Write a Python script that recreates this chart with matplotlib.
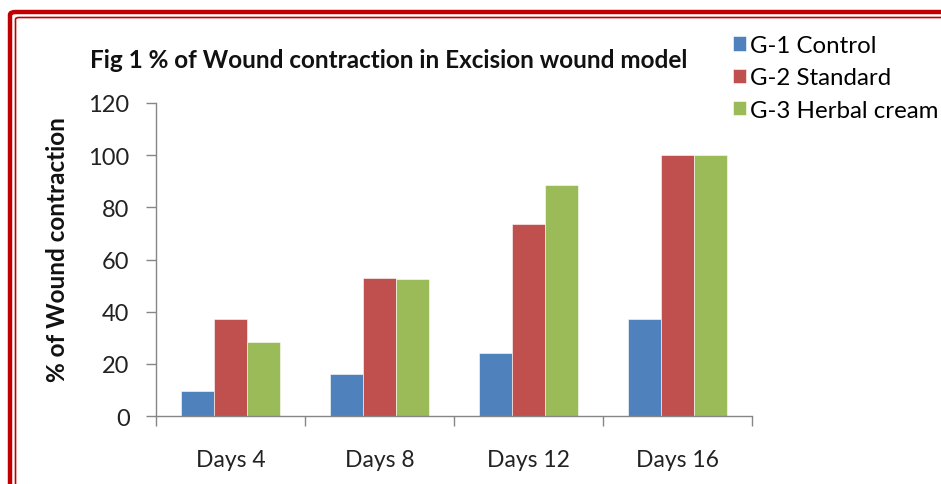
import matplotlib
matplotlib.use("Agg")
import matplotlib.pyplot as plt
import numpy as np
from matplotlib.patches import FancyBboxPatch

categories = ["Days 4", "Days 8", "Days 12", "Days 16"]
series_names = ["G-1 Control", "G-2 Standard", "G-3 Herbal cream"]
g1_control = [9.5, 16, 24, 37.2]
g2_standard = [37.2, 52.8, 73.6, 100]
g3_herbal = [28.3, 52.4, 88.4, 100]
yticks = [0, 20, 40, 60, 80, 100, 120]

colors = ["#4F81BD", "#C0504D", "#9BBB59"]
plt.rcParams['font.family'] = ['Lato', 'DejaVu Sans']

W, H = 941, 485
fig = plt.figure(figsize=(W / 100, H / 100), dpi=100)

# red frame (extends beyond the right and bottom edges)
outer = FancyBboxPatch((10 / W, -0.2), 1.2, 1 - 13 / H + 0.2,
                       boxstyle="round,pad=0,rounding_size=0.006",
                       transform=fig.transFigure, fill=False,
                       edgecolor="#C00000", linewidth=3.2, zorder=0)
inner = FancyBboxPatch((15.5 / W, -0.2), 1.2, 1 - 18.5 / H + 0.2,
                       boxstyle="round,pad=0,rounding_size=0.004",
                       transform=fig.transFigure, fill=False,
                       edgecolor="#C00000", linewidth=1.2, zorder=0)
fig.patches.extend([outer, inner])

ax = fig.add_axes([156 / W, 1 - 417 / H, (752 - 156) / W, (417 - 104) / H])

x = np.arange(len(categories))
w = 1 / 4.5
for i, (vals, c) in enumerate(zip([g1_control, g2_standard, g3_herbal], colors)):
    ax.bar(x + (i - 1) * w, vals, width=w, color=c, edgecolor="white",
           linewidth=0.4, label=series_names[i], zorder=2)

ax.set_xlim(-0.5, len(categories) - 0.5)
ax.set_ylim(0, 120)
ax.set_yticks(yticks)
ax.set_yticklabels([str(t) for t in yticks], fontsize=17, color="#222222")

ax.set_xticks(np.arange(len(categories) + 1) - 0.5)
ax.set_xticklabels([])
ax.set_xticks(x, minor=True)
ax.set_xticklabels(categories, minor=True, fontsize=16.5, color="#222222")
ax.tick_params(axis="x", which="minor", length=0, pad=24)
ax.tick_params(axis="x", which="major", length=7, width=1, color="#868686", direction="out")
ax.tick_params(axis="y", length=7, width=1, color="#868686", direction="out", pad=12)

for s in ["top", "right"]:
    ax.spines[s].set_visible(False)
for s in ["left", "bottom"]:
    ax.spines[s].set_color("#868686")
    ax.spines[s].set_linewidth(1)

fig.text(389 / W, 1 - 60 / H, "Fig 1 % of Wound contraction in Excision wound model",
         ha="center", va="center", fontsize=17.5, fontweight="bold", color="#111111")
fig.text(58 / W, 1 - 250 / H, "% of Wound contraction", rotation=90,
         ha="center", va="center", fontsize=17.5, fontweight="bold", color="#111111")

ax.legend(loc="upper left", bbox_to_anchor=(733 / W, 1 - 36 / H),
          bbox_transform=fig.transFigure, frameon=False, fontsize=17.3,
          handlelength=0.55, handleheight=0.55, handletextpad=0.17,
          labelspacing=0.47, borderpad=0, borderaxespad=0)

fig.savefig("out.png", dpi=100)
